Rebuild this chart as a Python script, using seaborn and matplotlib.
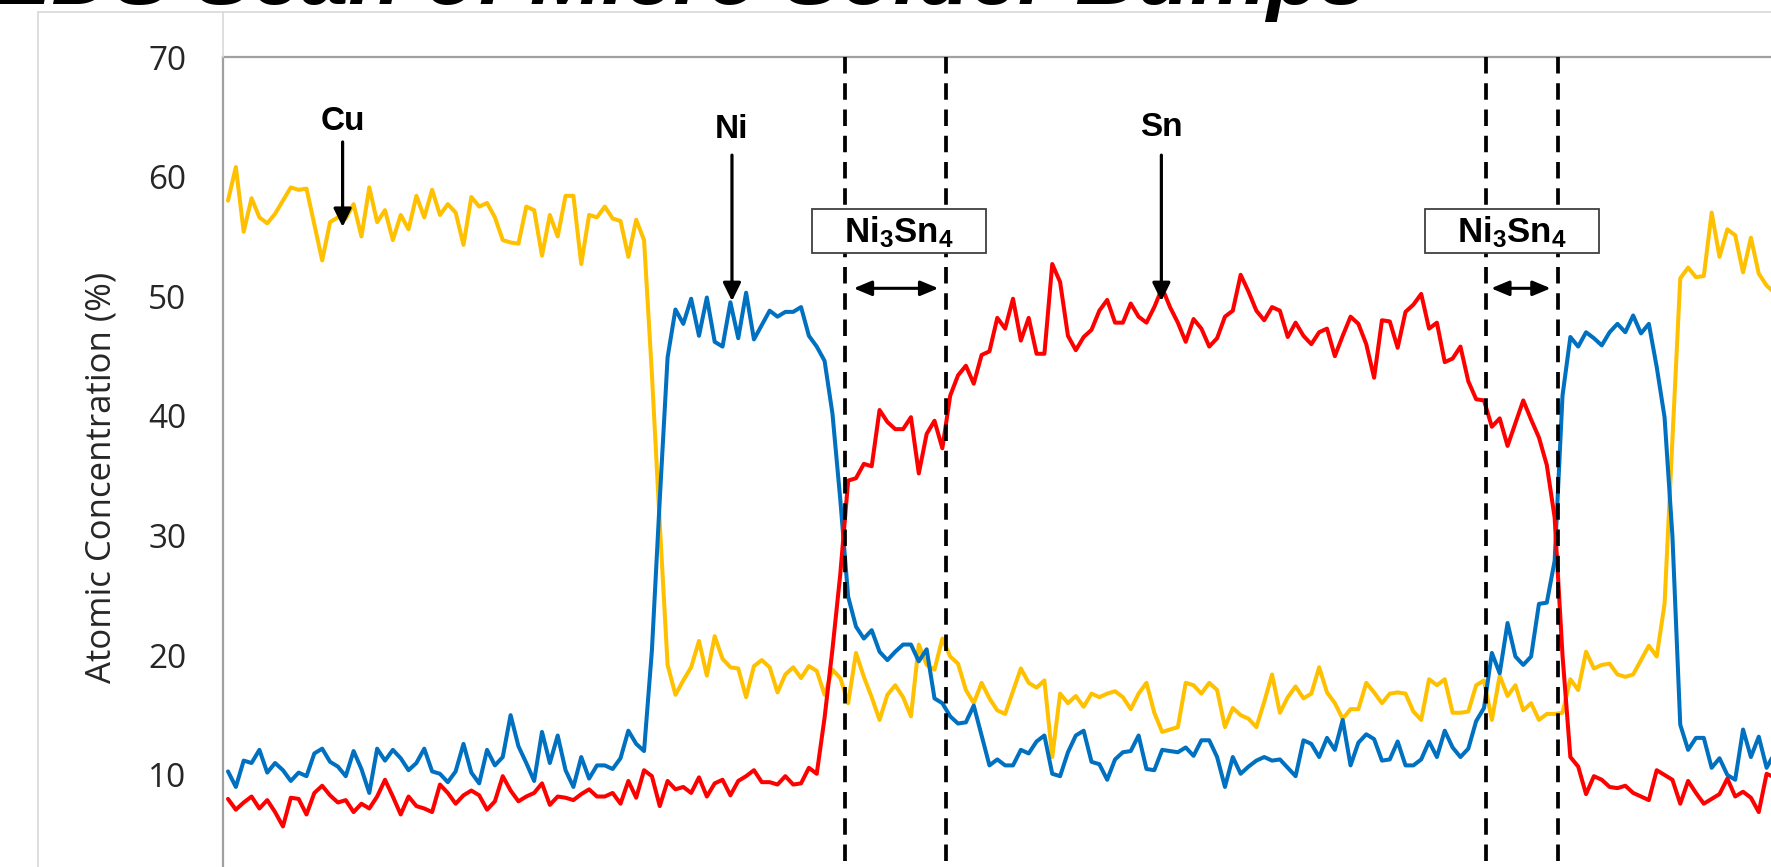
import numpy as np
import pandas as pd
import matplotlib
matplotlib.use('Agg')
import matplotlib.pyplot as plt
from matplotlib.patches import Rectangle
from matplotlib.lines import Line2D
import seaborn as sns

# EDS line scan, atomic concentration (%) per scan point
cu = [58.0, 60.8, 55.4, 58.2, 56.6, 56.1, 56.9, 58.0, 59.1, 58.9,
      59.0, 56.0, 53.0, 56.2, 56.6, 56.5, 57.7, 55.0, 59.1, 56.2,
      57.2, 54.7, 56.8, 55.6, 58.4, 56.6, 58.9, 56.8, 57.7, 57.0,
      54.3, 58.3, 57.5, 57.8, 56.6, 54.7, 54.5, 54.4, 57.5, 57.2,
      53.4, 56.8, 55.0, 58.4, 58.4, 52.7, 56.8, 56.6, 57.5, 56.5,
      56.3, 53.3, 56.4, 54.7, 43.5, 31.0, 19.2, 16.7, 17.9, 19.0,
      21.2, 18.3, 21.6, 19.7, 19.0, 18.9, 16.5, 19.1, 19.6, 19.0,
      16.9, 18.4, 19.0, 18.1, 19.1, 18.7, 16.7, 18.8, 18.1, 16.0,
      20.2, 18.2, 16.5, 14.6, 16.7, 17.5, 16.5, 14.9, 20.9, 19.2,
      18.8, 21.4, 19.9, 19.3, 17.1, 16.0, 17.7, 16.4, 15.4, 15.1,
      17.0, 18.9, 17.7, 17.3, 17.9, 11.5, 16.8, 16.0, 16.6, 15.7,
      16.8, 16.5, 16.8, 17.0, 16.5, 15.5, 16.8, 17.7, 15.2, 13.6,
      13.8, 14.0, 17.7, 17.5, 16.8, 17.7, 17.1, 14.0, 15.6, 15.0,
      14.7, 14.0, 16.1, 18.4, 15.2, 16.5, 17.4, 16.4, 16.8, 19.0,
      16.9, 16.0, 14.7, 15.5, 15.5, 17.7, 16.9, 16.0, 16.8, 16.9,
      16.8, 15.3, 14.6, 18.0, 17.5, 18.0, 15.2, 15.2, 15.3, 17.5,
      17.9, 14.6, 18.3, 16.6, 17.5, 15.4, 16.0, 14.6, 15.1, 15.1,
      15.2, 18.0, 17.1, 20.3, 18.9, 19.2, 19.3, 18.4, 18.2, 18.4,
      19.6, 20.8, 19.9, 24.3, 38.0, 51.5, 52.4, 51.6, 51.7, 57.0,
      53.3, 55.6, 55.1, 52.0, 54.9, 51.9, 50.9, 50.3]

ni = [10.3, 9.0, 11.2, 11.0, 12.1, 10.2, 11.0, 10.4, 9.5, 10.2,
      9.9, 11.8, 12.2, 11.1, 10.7, 9.9, 12.0, 10.5, 8.5, 12.2,
      11.2, 12.1, 11.4, 10.4, 11.0, 12.2, 10.3, 10.1, 9.4, 10.3,
      12.6, 10.2, 9.3, 12.1, 10.8, 11.5, 15.0, 12.4, 11.0, 9.5,
      13.6, 11.0, 13.3, 10.4, 9.0, 11.5, 9.7, 10.8, 10.8, 10.5,
      11.4, 13.7, 12.6, 12.0, 20.4, 33.0, 44.9, 48.9, 47.7, 49.8,
      46.7, 49.9, 46.2, 45.8, 49.5, 46.5, 50.3, 46.4, 47.6, 48.8,
      48.3, 48.7, 48.7, 49.1, 46.7, 45.8, 44.6, 40.2, 33.0, 24.9,
      22.4, 21.4, 22.1, 20.3, 19.6, 20.3, 20.9, 20.9, 19.5, 20.5,
      16.4, 16.0, 14.9, 14.3, 14.4, 15.8, 13.3, 10.8, 11.3, 10.8,
      10.8, 12.1, 11.8, 12.8, 13.3, 10.1, 9.9, 11.9, 13.3, 13.7,
      11.1, 10.9, 9.6, 11.3, 11.9, 12.0, 13.3, 10.5, 10.4, 12.1,
      12.0, 11.9, 12.3, 11.6, 12.9, 12.9, 11.5, 9.0, 11.5, 10.1,
      10.7, 11.2, 11.5, 11.2, 11.3, 10.6, 9.9, 12.9, 12.6, 11.5,
      13.1, 12.1, 14.6, 10.8, 12.7, 13.4, 13.0, 11.2, 11.3, 12.8,
      10.8, 10.8, 11.3, 12.8, 11.5, 13.7, 12.3, 11.5, 12.2, 14.5,
      15.6, 20.2, 18.5, 22.7, 19.9, 19.2, 19.9, 24.3, 24.4, 27.9,
      41.7, 46.6, 45.8, 47.0, 46.5, 45.9, 47.0, 47.7, 47.0, 48.4,
      46.9, 47.7, 44.1, 39.9, 30.0, 14.2, 12.1, 13.1, 13.1, 10.6,
      11.4, 10.0, 9.6, 13.8, 11.5, 13.2, 10.6, 11.8]

sn = [8.0, 7.1, 7.7, 8.2, 7.2, 7.9, 6.9, 5.7, 8.1, 8.0,
      6.7, 8.5, 9.1, 8.3, 7.7, 7.9, 6.9, 7.6, 7.2, 8.2,
      9.6, 8.2, 6.7, 8.2, 7.4, 7.2, 6.9, 9.2, 8.5, 7.6,
      8.3, 8.7, 8.3, 7.1, 7.8, 9.9, 8.7, 7.8, 8.2, 8.5,
      9.3, 7.5, 8.2, 8.1, 7.9, 8.4, 8.8, 8.2, 8.2, 8.5,
      7.6, 9.5, 8.1, 10.4, 9.9, 7.4, 9.5, 8.8, 9.0, 8.5,
      9.8, 8.2, 9.3, 9.6, 8.3, 9.5, 9.9, 10.4, 9.4, 9.4,
      9.2, 9.9, 9.2, 9.3, 10.6, 10.1, 14.8, 20.5, 26.8, 34.6,
      34.8, 36.0, 35.8, 40.5, 39.5, 38.9, 38.9, 39.9, 35.2, 38.5,
      39.6, 37.3, 41.7, 43.4, 44.2, 42.7, 45.1, 45.4, 48.2, 47.3,
      49.8, 46.3, 48.2, 45.2, 45.2, 52.7, 51.2, 46.7, 45.5, 46.6,
      47.2, 48.8, 49.7, 47.8, 47.8, 49.4, 48.3, 47.8, 49.1, 50.7,
      49.1, 47.8, 46.2, 48.1, 47.3, 45.8, 46.5, 48.3, 48.8, 51.8,
      50.4, 48.8, 48.0, 49.1, 48.8, 46.6, 47.8, 46.7, 46.0, 47.0,
      47.3, 45.0, 46.7, 48.3, 47.7, 46.0, 43.2, 48.0, 47.9, 45.7,
      48.7, 49.3, 50.2, 47.3, 47.8, 44.5, 44.8, 45.8, 42.9, 41.4,
      41.3, 39.1, 39.8, 37.5, 39.4, 41.3, 39.7, 38.2, 35.9, 31.5,
      20.0, 11.5, 10.7, 8.4, 9.9, 9.6, 9.0, 8.9, 9.1, 8.5,
      8.2, 7.9, 10.4, 10.0, 9.6, 7.6, 9.5, 8.5, 7.6, 8.0,
      8.4, 9.7, 8.2, 8.6, 8.1, 6.9, 10.1, 9.8]

elements = ['Cu', 'Ni', 'Sn']
colors = ['#FFC000', '#0070C0', '#FF0000']
y_ticks = [10, 20, 30, 40, 50, 60, 70]

# IMC (Ni3Sn4) layer boundaries, in scan points
imc_bounds = [78.6, 91.5, 160.25, 169.4]
imc_boxes = [(74.4, 96.5), (152.5, 174.6)]
imc_spans = [(79.7, 90.5), (160.9, 168.5)]

# element label arrows: x, arrow tip, arrow tail, text y
labels = [('Cu', 14.6, 55.8, 62.9, 64.6),
          ('Ni', 64.2, 49.6, 61.8, 63.9),
          ('Sn', 118.9, 49.6, 61.8, 64.1)]

W, H = 1771, 867
sns.set_style('white')
plt.rcParams['font.family'] = ['Open Sans', 'DejaVu Sans']
plt.rcParams['mathtext.fontset'] = 'custom'
plt.rcParams['mathtext.bf'] = 'Liberation Sans:bold'
plt.rcParams['mathtext.rm'] = 'Liberation Sans'

fig = plt.figure(figsize=(W / 100, H / 100), dpi=100)
ax = fig.add_axes([222.5 / W, 0, 1 - 222.5 / W, (H - 57) / H])

n = len(cu)
df = pd.DataFrame({
    'point': np.tile(np.arange(n), 3),
    'conc': cu + ni + sn,
    'element': np.repeat(elements, n),
})
sns.lineplot(data=df, x='point', y='conc', hue='element', hue_order=elements,
             palette=colors, linewidth=2.9, legend=False, ax=ax,
             estimator=None, sort=False)

ax.set_xlim(-0.7, 196.56)
ax.set_ylim(2.31, 70)
ax.set_yticks(y_ticks)
ax.set_xticks([])
ax.set_xlabel('')
ax.set_ylabel('')
ax.tick_params(axis='y', length=0, pad=26, labelsize=24, labelcolor='#262626')
for side in ['right', 'bottom']:
    ax.spines[side].set_visible(False)
for side in ['left', 'top']:
    ax.spines[side].set_color('#A0A0A0')
    ax.spines[side].set_linewidth(1.6)

for b in imc_bounds:
    ax.plot([b, b], [70, 0], color='black', lw=2.7, dashes=(4.4, 2.6), zorder=4)

for (x0, x1) in imc_boxes:
    ax.add_patch(Rectangle((x0, 53.65), x1 - x0, 3.62, facecolor='white',
                           edgecolor='#404040', lw=1.3, zorder=5))
    ax.text((x0 + x1) / 2, 55.3, r'$\mathbf{Ni_3Sn_4}$', ha='center', va='center',
            fontsize=25, color='black', zorder=6)

for (x0, x1) in imc_spans:
    ax.annotate('', xy=(x1, 50.67), xytext=(x0, 50.67),
                arrowprops=dict(arrowstyle='<|-|>,head_length=0.6,head_width=0.25',
                                mutation_scale=18, lw=2.2, color='black',
                                shrinkA=0, shrinkB=0), zorder=6)

for name, x, tip, tail, ty in labels:
    ax.annotate('', xy=(x, tip), xytext=(x, tail),
                arrowprops=dict(arrowstyle='-|>,head_length=0.55,head_width=0.27',
                                mutation_scale=20, lw=2.3, color='black',
                                shrinkA=0, shrinkB=0), zorder=6)
    ax.text(x, ty, name, ha='center', va='center', fontsize=24,
            fontweight='bold', family='Liberation Sans', color='black', zorder=6)

fig.text(102 / W, 1 - 477 / H, 'Atomic Concentration (%)', rotation=90,
         ha='center', va='center', fontsize=25, color='#262626')

fig.text(-6 / W, 1 - 4 / H, 'EDS Scan of Micro Solder Bumps', ha='left',
         va='baseline', fontsize=62, fontweight='bold', fontstyle='italic',
         family='Liberation Sans', color='black')

# chart area frame lines
frame = '#D9D9D9'
fig.add_artist(Line2D([38 / W, 1], [1 - 12 / H, 1 - 12 / H], color=frame, lw=1.2))
fig.add_artist(Line2D([38 / W, 38 / W], [0, 1 - 12 / H], color=frame, lw=1.2))
fig.add_artist(Line2D([223 / W, 223 / W], [1 - 57 / H, 1 - 12 / H], color=frame, lw=1.2))

fig.savefig('out.png', dpi=100)
